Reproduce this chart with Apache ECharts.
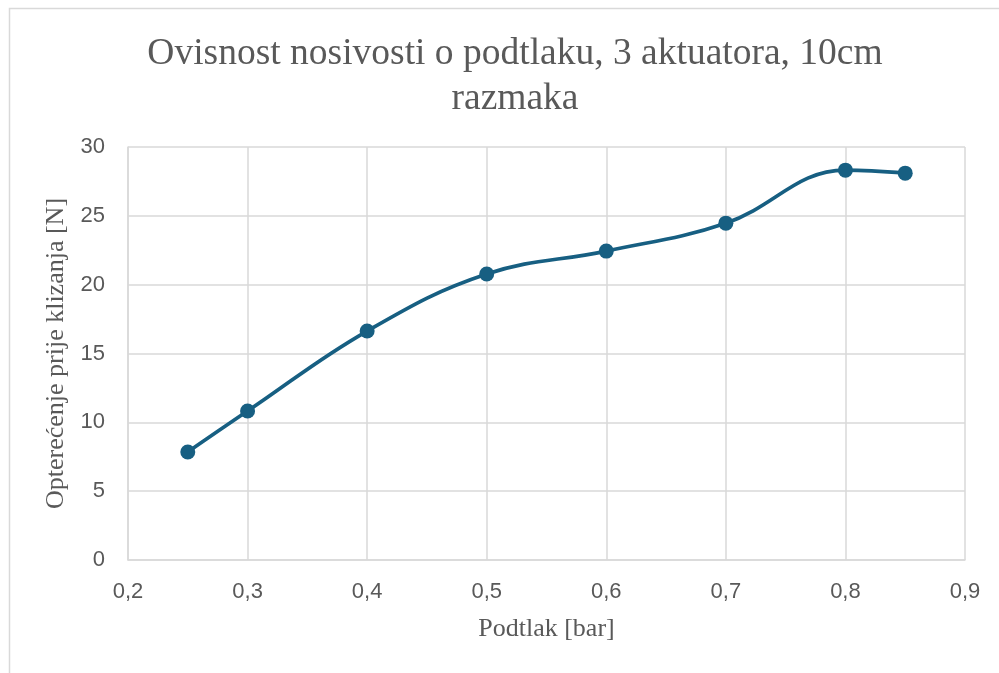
<!DOCTYPE html>
<html>
<head>
<meta charset="utf-8">
<script src="https://cdn.jsdelivr.net/npm/echarts@6/dist/echarts.min.js"></script>
<style>
  html, body { margin: 0; padding: 0; background: #ffffff; }
  #chart { width: 999px; height: 673px; }
</style>
</head>
<body>
<div id="chart"></div>
<script>
// Vacuum pressure [bar] vs. load before slipping [N]
const pressure = [0.25, 0.3, 0.4, 0.5, 0.6, 0.7, 0.8, 0.85];
const load = [7.85, 10.82, 16.63, 20.77, 22.44, 24.47, 28.32, 28.1];

const titleLines = ['Ovisnost nosivosti o podtlaku, 3 aktuatora, 10cm', 'razmaka'];
const xAxisTitle = 'Podtlak [bar]';
const yAxisTitle = 'Opterećenje prije klizanja [N]';

const textGray = '#595959';
const gridGray = '#d9d9d9';
const lineBlue = '#175f82';
const serif = '"Liberation Serif", "Times New Roman", serif';
const sans = '"Liberation Sans", Arial, sans-serif';

const chart = echarts.init(document.getElementById('chart'), null, { renderer: 'canvas' });

const commaFmt = v => String(Math.round(v * 10) / 10).replace('.', ',');

chart.setOption({
  animation: false,
  backgroundColor: '#ffffff',
  graphic: [{
    type: 'rect',
    shape: { x: 9.5, y: 8.5, width: 1000, height: 700 },
    style: { fill: 'none', stroke: gridGray, lineWidth: 1.5 },
    silent: true
  }],
  title: {
    text: titleLines.join('\n'),
    left: 510,
    textAlign: 'center',
    top: 27,
    textStyle: {
      fontFamily: serif,
      fontSize: 37.5,
      fontWeight: 'normal',
      color: textGray,
      lineHeight: 45
    }
  },
  grid: { left: 128, top: 147, right: 34, bottom: 113, containLabel: false },
  xAxis: {
    type: 'value',
    min: 0.2,
    max: 0.9,
    interval: 0.1,
    name: xAxisTitle,
    nameLocation: 'middle',
    nameGap: 56,
    nameTextStyle: { fontFamily: serif, fontSize: 26, color: textGray },
    axisLine: { show: true, lineStyle: { color: gridGray, width: 1.5 } },
    axisTick: { show: false },
    axisLabel: { formatter: commaFmt, fontFamily: sans, fontSize: 22, color: textGray, margin: 21 },
    splitLine: { show: true, lineStyle: { color: gridGray, width: 1.5 } }
  },
  yAxis: {
    type: 'value',
    min: 0,
    max: 30,
    interval: 5,
    name: yAxisTitle,
    nameLocation: 'middle',
    nameGap: 50,
    nameRotate: 90,
    nameTextStyle: { fontFamily: serif, fontSize: 26, color: textGray },
    axisLine: { show: true, lineStyle: { color: gridGray, width: 1.5 } },
    axisTick: { show: false },
    axisLabel: { fontFamily: sans, fontSize: 22, color: textGray, margin: 23 },
    splitLine: { show: true, lineStyle: { color: gridGray, width: 1.5 } }
  },
  series: [{
    type: 'line',
    data: pressure.map((p, i) => [p, load[i]]),
    smooth: 0.4,
    symbol: 'circle',
    symbolSize: 15,
    itemStyle: { color: lineBlue },
    lineStyle: { color: lineBlue, width: 3.7 }
  }]
});
</script>
</body>
</html>
